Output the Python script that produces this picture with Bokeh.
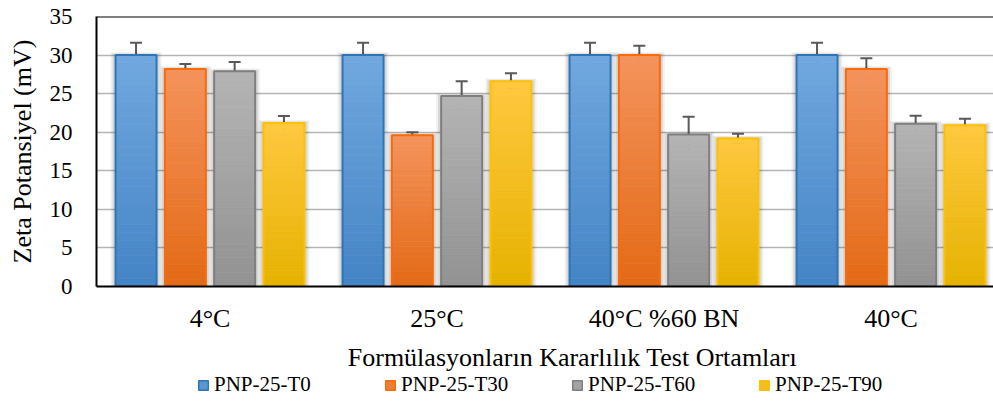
import numpy as np
from bokeh.plotting import figure
from bokeh.layouts import column
from bokeh.models import (Range1d, FixedTicker, ColumnDataSource,
                          Whisker, TeeHead, Legend, LegendItem, Span, Label)
from bokeh.embed import file_html
from bokeh.resources import INLINE

# ---------------- data ----------------
categories = ["4°C", "25°C", "40°C %60 BN", "40°C"]
series = ["PNP-25-T0", "PNP-25-T30", "PNP-25-T60", "PNP-25-T90"]
t0 = [30.0, 30.0, 30.0, 30.0]
t0_err = [1.6, 1.6, 1.6, 1.6]
t30 = [28.2, 19.6, 30.0, 28.2]
t30_err = [0.65, 0.4, 1.2, 1.4]
t60 = [27.9, 24.7, 19.7, 21.1]
t60_err = [1.2, 1.9, 2.3, 1.05]
t90 = [21.2, 26.6, 19.2, 20.9]
t90_err = [0.9, 1.05, 0.6, 0.85]
y_ticks = [0, 5, 10, 15, 20, 25, 30, 35]
x_title = "Formülasyonların Kararlılık Test Ortamları"
y_title = "Zeta Potansiyel (mV)"

values = [t0, t30, t60, t90]
errors = [t0_err, t30_err, t60_err, t90_err]

# ---------------- style ----------------
FONT = "Liberation Serif"
styles = [  # (top colour, bottom colour, border)
    ("#71a8df", "#4484c5", "#2e75b6"),
    ("#f4935c", "#e36915", "#fb6a0a"),
    ("#b4b4b4", "#929292", "#7f7f7f"),
    ("#ffc83f", "#e6b200", "#ffc000"),
]

LEFT = 96
FRAME_W = 897
CAT_PX = 227.0
px = 1.0 / CAT_PX          # one pixel in data units on x
x_end = FRAME_W / CAT_PX
bar_w = 41 * px
step = 49.3 * px

p = figure(width=LEFT + FRAME_W, height=338, output_backend="svg", toolbar_location=None,
           x_range=Range1d(0, x_end), y_range=Range1d(0, 35),
           min_border_left=LEFT, min_border_right=0, min_border_top=16, min_border_bottom=52)
p.outline_line_color = None
p.background_fill_color = "white"
p.border_fill_color = "white"

p.xgrid.grid_line_color = None
p.ygrid.grid_line_color = "#b5b5b5"
p.ygrid.grid_line_width = 1.5
p.yaxis.ticker = FixedTicker(ticks=y_ticks)

cat_centers = [i + 0.5 for i in range(len(categories))]
p.xaxis.ticker = FixedTicker(ticks=cat_centers)
p.xaxis.major_label_overrides = {c: lab for c, lab in zip(cat_centers, categories)}

for ax in (p.xaxis[0], p.yaxis[0]):
    ax.axis_line_color = "black"
    ax.axis_line_width = 2
    ax.major_tick_out = 0
    ax.major_tick_in = 0
    ax.minor_tick_out = 0
    ax.minor_tick_in = 0
    ax.major_label_text_font = FONT
    ax.major_label_text_color = "black"
    ax.axis_label_text_font = FONT
    ax.axis_label_text_font_style = "normal"
    ax.axis_label_text_font_size = "26px"
    ax.axis_label_text_color = "black"

p.xaxis.major_label_text_font_size = "26px"
p.xaxis.major_label_standoff = 17
p.yaxis.major_label_text_font_size = "23px"
p.yaxis.major_label_standoff = 24
p.yaxis.axis_label = y_title
p.yaxis.axis_label_standoff = 10

p.add_layout(Span(location=35, dimension="width", line_color="black", line_width=2))


def hex2rgb(h):
    h = h.lstrip("#")
    return np.array([int(h[i:i + 2], 16) for i in (0, 2, 4)], dtype=float)


def rgb2hex(c):
    return "#%02x%02x%02x" % tuple(int(round(v)) for v in c)


N = 30
for s, (name, vals, errs, (ctop, cbot, cline)) in enumerate(zip(series, values, errors, styles)):
    xs = [c + (s - 1.5) * step for c in cat_centers]
    vals = list(vals)
    # soft shadow
    p.vbar(x=xs, top=[v + 0.35 for v in vals], width=bar_w + 10 * px, bottom=0,
           fill_color="black", fill_alpha=0.06, line_color=None)
    p.vbar(x=xs, top=[v + 0.2 for v in vals], width=bar_w + 6 * px, bottom=0,
           fill_color="black", fill_alpha=0.10, line_color=None)
    # gradient slices
    sx, sb, st, sc = [], [], [], []
    t_rgb, b_rgb = hex2rgb(ctop), hex2rgb(cbot)
    for x, v in zip(xs, vals):
        for k in range(N):
            f = (k + 0.5) / N
            sx.append(x)
            sb.append(v * k / N)
            st.append(v * (k + 1) / N)
            sc.append(rgb2hex(b_rgb + (t_rgb - b_rgb) * f))
    src = ColumnDataSource(dict(x=sx, bottom=sb, top=st, color=sc))
    p.vbar(x="x", bottom="bottom", top="top", width=bar_w, fill_color="color",
           line_color="color", line_width=0.6, source=src)
    # border
    p.vbar(x=xs, top=vals, width=bar_w, bottom=0, fill_color=None,
           line_color=cline, line_width=2)
    # error bars
    esrc = ColumnDataSource(dict(x=xs, upper=[v + e for v, e in zip(vals, errs)],
                                 lower=[v - e for v, e in zip(vals, errs)]))
    w = Whisker(source=esrc, base="x", upper="upper", lower="lower", dimension="height",
                line_color="#595959", line_width=2,
                upper_head=TeeHead(size=12, line_color="#595959", line_width=2),
                lower_head=TeeHead(size=12, line_color="#595959", line_width=2))
    p.add_layout(w)

# ---------------- axis title + legend strip ----------------
p2 = figure(width=LEFT + FRAME_W, height=62, output_backend="svg", toolbar_location=None,
            x_range=Range1d(0, 1), y_range=Range1d(0, 1),
            x_axis_type=None, y_axis_type=None,
            min_border_left=LEFT, min_border_right=0, min_border_top=0, min_border_bottom=0)
p2.outline_line_color = None
p2.xgrid.grid_line_color = None
p2.ygrid.grid_line_color = None
p2.background_fill_color = "white"
p2.border_fill_color = "white"

p2.add_layout(Label(x=572 - LEFT, y=43, x_units="screen", y_units="screen", text=x_title,
                    text_align="center", text_baseline="middle", text_font=FONT,
                    text_font_size="26px", text_color="black"))

legend_items = []
for name, (ctop, cbot, cline) in zip(series, styles):
    mid = rgb2hex((hex2rgb(ctop) + hex2rgb(cbot)) / 2)
    # hidden legend proxy (only its swatch is shown in the legend)
    r = p2.vbar(x=[0.5], top=[1], bottom=[0], width=0.1, fill_color=mid,
                line_color=cline, line_width=1.5, visible=False)
    legend_items.append(LegendItem(label=name, renderers=[r]))

legend = Legend(items=legend_items, orientation="horizontal", location=(197 - LEFT, 3),
                label_text_font=FONT, label_text_font_size="21px", label_text_color="black",
                glyph_width=12, glyph_height=12, label_standoff=5, label_width=170,
                label_height=20, spacing=0, padding=0, margin=0, border_line_color=None,
                background_fill_alpha=0, click_policy="none")
p2.add_layout(legend)

layout = column(p, p2, spacing=0)
open("out.html", "w").write(file_html(layout, INLINE))
